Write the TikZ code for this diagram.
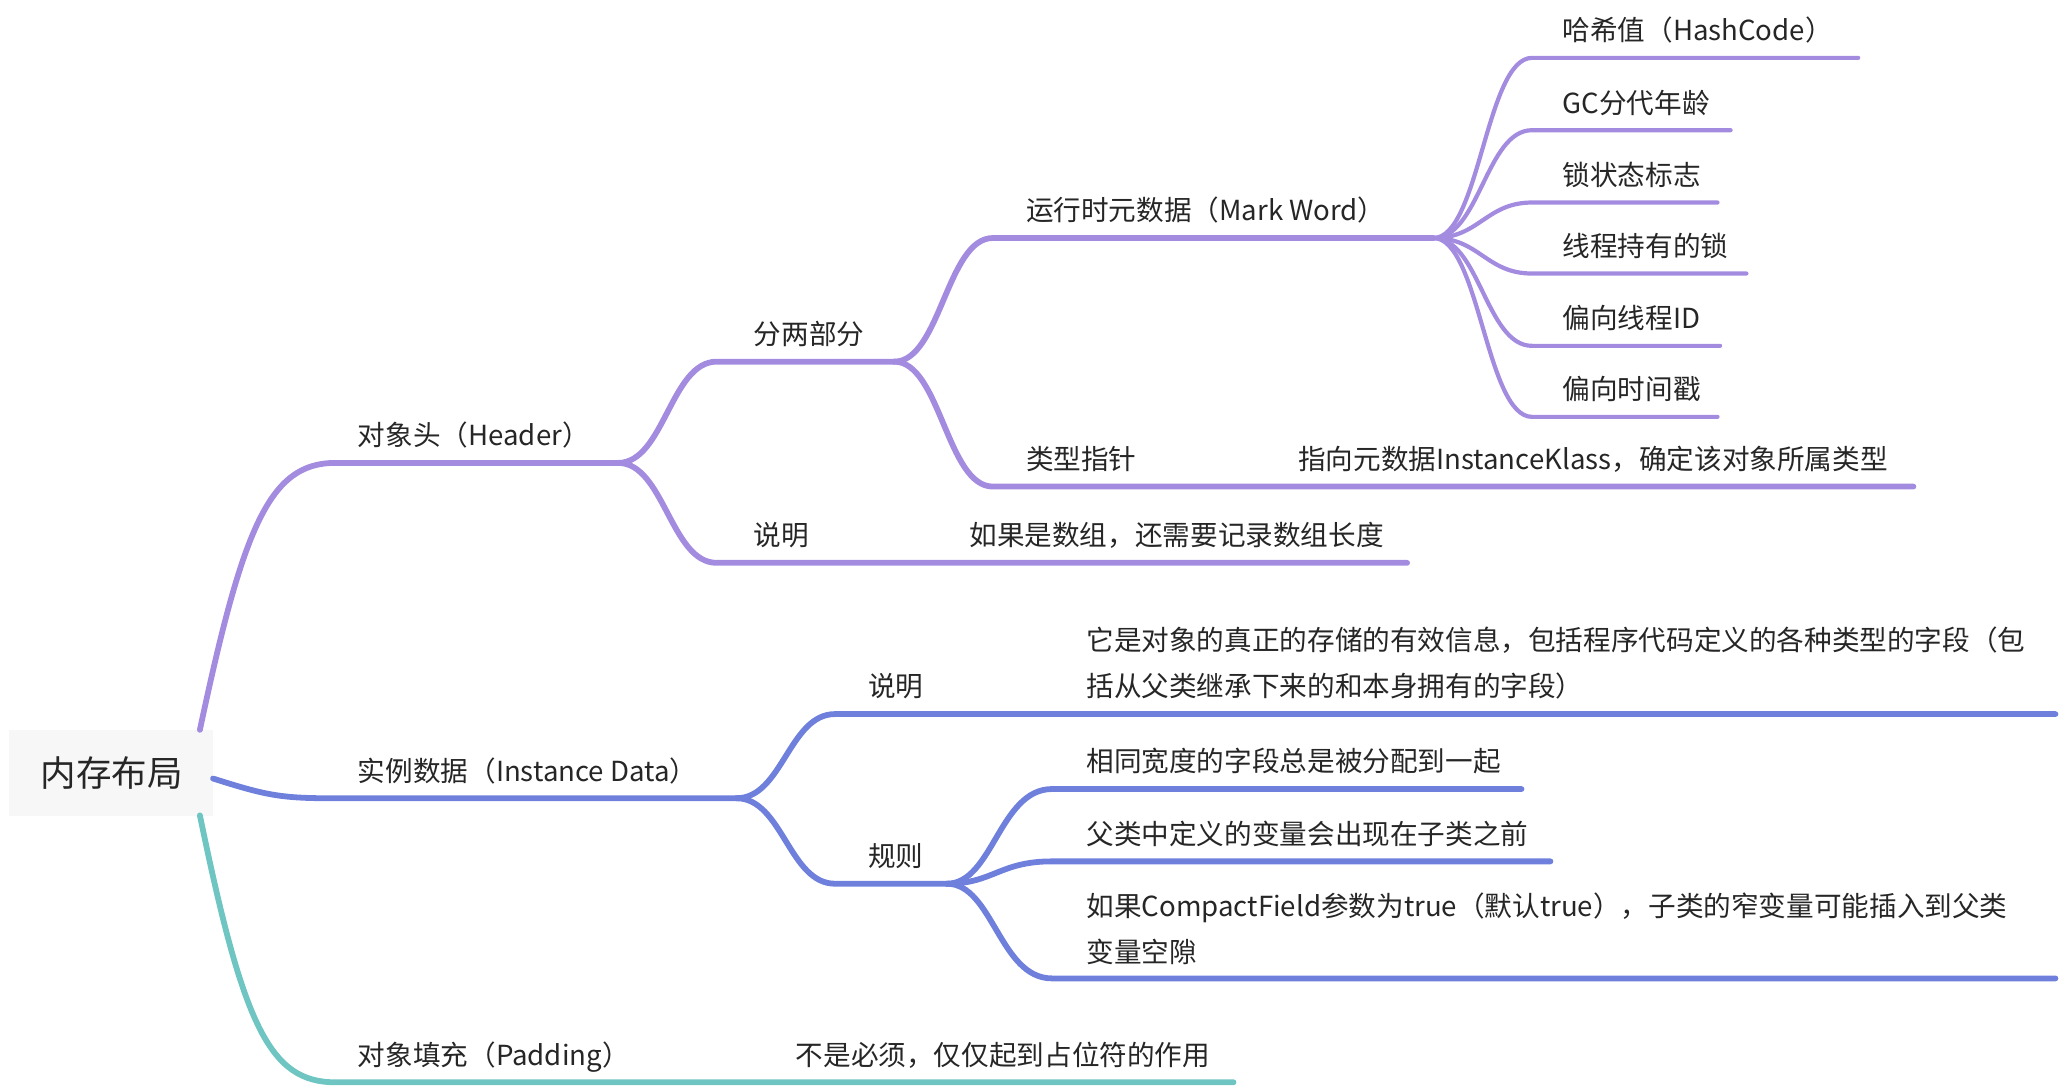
\documentclass[tikz,border=0pt]{standalone}
\usepackage{fontspec}
\setmainfont{Noto Sans CJK SC}
\definecolor{cpur}{RGB}{163,140,224}
\definecolor{cblu}{RGB}{110,128,220}
\definecolor{cteal}{RGB}{110,197,194}
\definecolor{ctxt}{RGB}{38,38,38}
\definecolor{crootbg}{RGB}{247,247,247}
\tikzset{
  topic/.style={anchor=base west, inner sep=0pt, text=ctxt, font=\fontsize{21}{35}\selectfont, align=left},
  br/.style={line width=4.4pt, line cap=round, line join=round},
  thin/.style={line width=3.2pt},
  pur/.style={br, draw=cpur},
  blu/.style={br, draw=cblu},
  tea/.style={br, draw=cteal},
}
\begin{document}
\begin{tikzpicture}[x=1pt,y=-1pt]
\useasboundingbox (0,0) rectangle (1568,827);
% root
\node[fill=crootbg, minimum width=155pt, minimum height=65pt, inner sep=0pt, anchor=north west] (root) at (7,555) {};
\node[anchor=base, inner sep=0pt, text=ctxt, font=\fontsize{27}{27}\selectfont] (roottxt) at (85,598) {内存布局};
\coordinate (r-top) at (152,555);
\coordinate (r-right) at (162,592);
\coordinate (r-bot) at (152,620);

% level 1
\coordinate (hdr-s) at (255,352); \coordinate (hdr-e) at (470,352);
\coordinate (ins-s) at (250,607); \coordinate (ins-e) at (560,607);
\coordinate (pad-s) at (255,823); \coordinate (pad-e) at (938,823);
\node[topic] (hdr) at (272,339) {对象头（Header）};
\node[topic] (ins) at (272,594) {实例数据（Instance Data）};
\node[topic] (pad) at (272,810) {对象填充（Padding）};
\node[topic] (padtxt) at (605,810) {不是必须，仅仅起到占位符的作用};

\draw[pur] (r-top) .. controls (185,400) and (205,352) .. (hdr-s) -- (hdr-e);
\draw[blu] (r-right) .. controls (200,604) and (212,607) .. (ins-s) -- (ins-e);
\draw[tea] (r-bot) .. controls (185,780) and (205,823) .. (pad-s) -- (pad-e);

% header children
\coordinate (two-s) at (545,275); \coordinate (two-e) at (680,275);
\coordinate (hn-s) at (545,428); \coordinate (hn-e) at (1070,428);
\node[topic] (two) at (573,262) {分两部分};
\node[topic] (hn) at (573,415) {说明};
\node[topic] (hntxt) at (737,415) {如果是数组，还需要记录数组长度};
\draw[pur] (hdr-e) .. controls (505,352) and (510,275) .. (two-s) -- (two-e);
\draw[pur] (hdr-e) .. controls (505,352) and (510,428) .. (hn-s) -- (hn-e);

% two parts
\coordinate (mw-s) at (755,181); \coordinate (mw-e) at (1090,181);
\coordinate (kp-s) at (755,370); \coordinate (kp-e) at (1455,370);
\node[topic] (mw) at (780,168) {运行时元数据（Mark Word）};
\node[topic] (kp) at (780,357) {类型指针};
\node[topic] (kptxt) at (987,357) {指向元数据InstanceKlass，确定该对象所属类型};
\draw[pur] (two-e) .. controls (715,275) and (720,181) .. (mw-s) -- (mw-e);
\draw[pur] (two-e) .. controls (715,275) and (720,370) .. (kp-s) -- (kp-e);

% mark word leaves
\foreach \n/\y/\e/\t in {l1/44/1413/哈希值（HashCode）, l2/99/1316/GC分代年龄, l3/154/1306/锁状态标志, l4/208/1328/线程持有的锁, l5/263/1308/偏向线程ID, l6/317/1306/偏向时间戳}{
  \coordinate (\n-s) at (1165,\y); \coordinate (\n-e) at (\e,\y);
  \node[topic] (\n) at (1188,\y-13) {\t};
  \draw[pur, thin] (mw-e) .. controls (1125,181) and (1130,\y) .. (\n-s) -- (\n-e);
}

% instance children
\coordinate (in-s) at (635,543); \coordinate (in-e) at (1563,543);
\coordinate (ru-s) at (635,672); \coordinate (ru-e) at (720,672);
\node[topic] (in) at (660,530) {说明};
\node[topic] (intxt) at (826,530) {它是对象的真正的存储的有效信息，包括程序代码定义的各种类型的字段（包\\括从父类继承下来的和本身拥有的字段）};
\node[topic] (ru) at (660,659) {规则};
\draw[blu] (ins-e) .. controls (595,607) and (600,543) .. (in-s) -- (in-e);
\draw[blu] (ins-e) .. controls (595,607) and (600,672) .. (ru-s) -- (ru-e);

% rules
\coordinate (q1-s) at (800,600); \coordinate (q1-e) at (1157,600);
\coordinate (q2-s) at (800,655); \coordinate (q2-e) at (1179,655);
\coordinate (q3-s) at (800,744); \coordinate (q3-e) at (1563,744);
\node[topic] (q1) at (826,587) {相同宽度的字段总是被分配到一起};
\node[topic] (q2) at (826,642) {父类中定义的变量会出现在子类之前};
\node[topic] (q3) at (826,732) {如果CompactField参数为true（默认true），子类的窄变量可能插入到父类\\变量空隙};
\draw[blu] (ru-e) .. controls (755,672) and (760,600) .. (q1-s) -- (q1-e);
\draw[blu] (ru-e) .. controls (755,672) and (760,655) .. (q2-s) -- (q2-e);
\draw[blu] (ru-e) .. controls (755,672) and (760,744) .. (q3-s) -- (q3-e);
\end{tikzpicture}
\end{document}
